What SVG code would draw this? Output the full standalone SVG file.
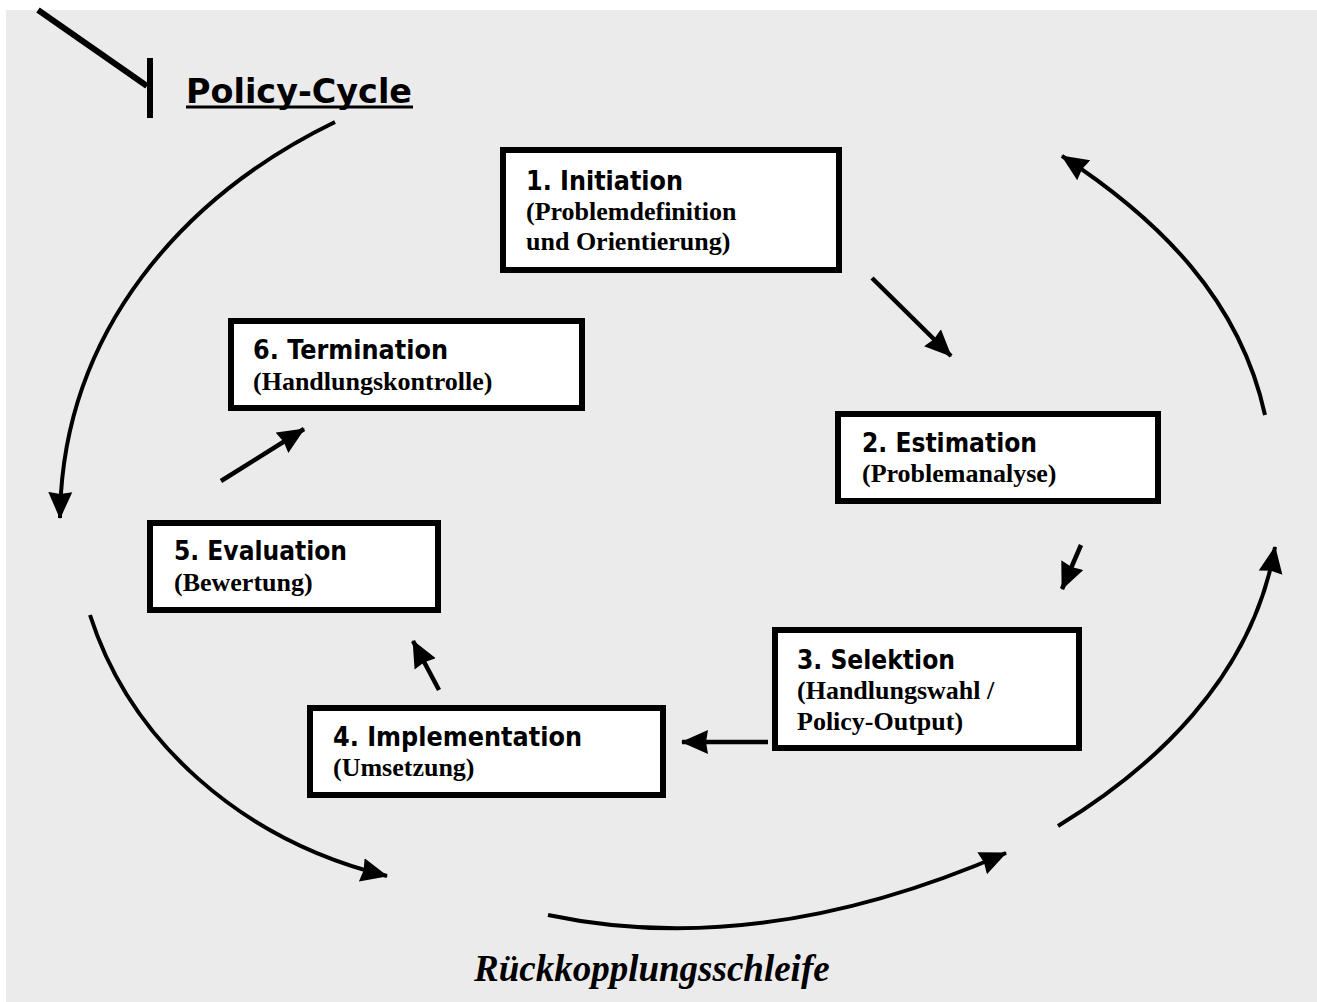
<svg xmlns="http://www.w3.org/2000/svg" width="1317" height="1002" viewBox="0 0 1317 1002">
  <style>
    .box rect { fill: #ffffff; stroke: #000000; stroke-width: 6; }
    .head { font-family: "DejaVu Sans", "Liberation Sans", sans-serif; font-weight: bold; font-size: 26px; fill: #000; }
    .sub { font-family: "Liberation Serif", "Times New Roman", serif; font-weight: bold; font-size: 26px; fill: #000; }
    .loop { fill: none; stroke: #000; stroke-width: 4; stroke-linecap: butt; marker-end: url(#tip); }
    .step { fill: none; stroke: #000; stroke-width: 4.5; stroke-linecap: butt; marker-end: url(#tip); }
  </style>
  <defs>
    <!-- solid triangular arrowhead, tip at path end -->
    <marker id="tip" markerUnits="userSpaceOnUse" markerWidth="28" markerHeight="26" viewBox="0 0 28 26" refX="26" refY="13" orient="auto">
      <path d="M0,1 L27,13 L0,25 L2,13 Z" fill="#000"/>
    </marker>
  </defs>

  <!-- paper -->
  <rect x="0" y="0" width="1317" height="1002" fill="#ffffff"/>
  <rect x="6" y="10" width="1311" height="992" fill="#ebebeb"/>

  <!-- title with pointer stroke -->
  <g id="title">
    <path d="M38,10 L147,86" stroke="#000" stroke-width="6" fill="none"/>
    <path d="M150,58 L150,118" stroke="#000" stroke-width="6" fill="none"/>
    <text x="186" y="103" font-family="DejaVu Sans, Liberation Sans, sans-serif" font-weight="bold" font-size="34" textLength="226" lengthAdjust="spacingAndGlyphs">Policy-Cycle</text>
    <rect x="186" y="105.5" width="227" height="3" fill="#000"/>
  </g>

  <!-- connectors -->
  <g id="connectors">
    <!-- outer feedback loop -->
    <path class="loop" d="M335,122 C185,195 62,330 60,518"/>
    <path class="loop" d="M90,615 C130,740 240,840 387,876"/>
    <path class="loop" d="M548,915 Q760,960 1006,853"/>
    <path class="loop" d="M1058,826 C1150,770 1252,680 1275,547"/>
    <path class="loop" d="M1265,415 C1240,300 1160,220 1062,156"/>
    <!-- step arrows between phases -->
    <path class="step" d="M872,278 L951,356"/>
    <path class="step" d="M1081,545 L1062,589"/>
    <path class="step" d="M768,742 L682,742"/>
    <path class="step" d="M439,690 L413,641"/>
    <path class="step" d="M221,481 L304,429"/>
  </g>

  <g id="n1" class="box">
    <rect x="503" y="150" width="336" height="120"/>
    <text class="head" x="526" y="190" textLength="157" lengthAdjust="spacingAndGlyphs">1. Initiation</text>
    <text class="sub" x="526" y="220">(Problemdefinition</text>
    <text class="sub" x="526" y="250">und Orientierung)</text>
  </g>

  <g id="n2" class="box">
    <rect x="838" y="414" width="320" height="87"/>
    <text class="head" x="862" y="452" textLength="175" lengthAdjust="spacingAndGlyphs">2. Estimation</text>
    <text class="sub" x="862" y="482">(Problemanalyse)</text>
  </g>

  <g id="n3" class="box">
    <rect x="775" y="630" width="304" height="118"/>
    <text class="head" x="797" y="669" textLength="158" lengthAdjust="spacingAndGlyphs">3. Selektion</text>
    <text class="sub" x="797" y="699">(Handlungswahl /</text>
    <text class="sub" x="797" y="730">Policy-Output)</text>
  </g>

  <g id="n4" class="box">
    <rect x="310" y="708" width="353" height="87"/>
    <text class="head" x="333" y="746" textLength="249" lengthAdjust="spacingAndGlyphs">4. Implementation</text>
    <text class="sub" x="333" y="776">(Umsetzung)</text>
  </g>

  <g id="n5" class="box">
    <rect x="150" y="523" width="288" height="87"/>
    <text class="head" x="174" y="560" textLength="173" lengthAdjust="spacingAndGlyphs">5. Evaluation</text>
    <text class="sub" x="174" y="591">(Bewertung)</text>
  </g>

  <g id="n6" class="box">
    <rect x="231" y="321" width="351" height="87"/>
    <text class="head" x="253" y="359" textLength="195" lengthAdjust="spacingAndGlyphs">6. Termination</text>
    <text class="sub" x="253" y="390">(Handlungskontrolle)</text>
  </g>

  <g id="loop-label">
    <text x="474" y="981" font-family="Liberation Serif, Times New Roman, serif" font-weight="bold" font-style="italic" font-size="37">Rückkopplungsschleife</text>
  </g>
</svg>
